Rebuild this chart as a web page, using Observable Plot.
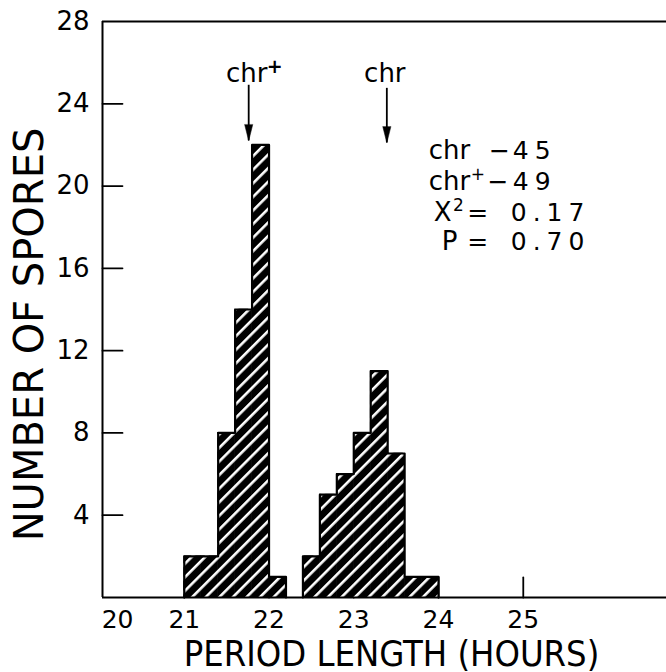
<!DOCTYPE html>
<html><head><meta charset="utf-8">
<script src="https://cdn.jsdelivr.net/npm/d3@7"></script>
<script src="https://cdn.jsdelivr.net/npm/@observablehq/plot@0.6"></script>
<style>body{margin:0;background:#fff} svg{display:block}</style>
</head><body><div id="chart"></div>
<script>
// ---- data ----
const chrPlusBinStart = [21.0, 21.2, 21.4, 21.6, 21.8, 22.0];
const chrPlusCounts   = [2, 2, 8, 14, 22, 1];
const chrBinStart     = [22.4, 22.6, 22.8, 23.0, 23.2, 23.4, 23.6, 23.8];
const chrCounts       = [2, 5, 6, 8, 11, 7, 1, 1];
const binWidth = 0.2;

const xTicks = [20, 21, 22, 23, 24, 25];
const yTicks = [4, 8, 12, 16, 20, 24, 28];
const xDomain = [20.035, 26.69];
const yDomain = [0, 28];

const arrowLabels = ["chr", "chr"];
const arrowSups   = ["+", ""];
const arrowX      = [21.76, 23.39];
const arrowTop    = [24.9, 24.75];
const arrowTip    = [22.2, 22.1];
const labelY      = [25.04, 25.04];

const statNames  = ["chr", "chr", "X", "P"];
const statSups   = ["", "+", "2", ""];
const statOps    = ["−", "−", "=", "="];
const statValues = ["45", "49", "0.17", "0.70"];
const statNameX  = [23.884, 23.884, 23.943, 24.037];
const statSupX   = [24.38, 24.38, 24.17, 24.3];
const statOpX    = [24.72, 24.70, 24.462, 24.462];
const statValX   = [24.876, 24.876, 24.852, 24.852];
const statY      = [21.34, 19.83, 18.28, 16.87];

const xTitle = "PERIOD LENGTH (HOURS)";
const yTitle = "NUMBER OF SPORES";

// ---- derived tables ----
const bars = [
  ...chrPlusBinStart.map((x, i) => ({group: "chr+", x1: x, x2: x + binWidth, y: chrPlusCounts[i]})),
  ...chrBinStart.map((x, i) => ({group: "chr", x1: x, x2: x + binWidth, y: chrCounts[i]}))
];
function outline(starts, counts, group) {
  const pts = [{group, x: starts[0], y: 0}];
  starts.forEach((x, i) => pts.push({group, x, y: counts[i]}));
  const end = starts[starts.length - 1] + binWidth;
  pts.push({group, x: end, y: counts[counts.length - 1]});
  pts.push({group, x: end, y: 0});
  return pts;
}
const outlines = [...outline(chrPlusBinStart, chrPlusCounts, "chr+"), ...outline(chrBinStart, chrCounts, "chr")];
const arrows = arrowLabels.map((t, i) => ({t, s: arrowSups[i], x: arrowX[i], y1: arrowTop[i], y2: arrowTip[i], ly: labelY[i]}));
const stats = statNames.map((n, i) => ({n, s: statSups[i], op: statOps[i], v: statValues[i], nx: statNameX[i], sx: statSupX[i], ox: statOpX[i], vx: statValX[i], y: statY[i]}));

const lineShape = {draw(ctx, l) { ctx.moveTo(0, 0); ctx.lineTo(0, -l); }};
const headShape = {draw(ctx, l, r) { ctx.moveTo(-4, 0); ctx.lineTo(0, -l); ctx.lineTo(4, 0); ctx.closePath(); }};

const defs = () => {
  const s = d3.create("svg:defs");
  const p = s.append("pattern").attr("id", "hatch").attr("patternUnits", "userSpaceOnUse")
    .attr("width", 9.6).attr("height", 9.6).attr("patternTransform", "rotate(45)");
  p.append("rect").attr("width", 9.6).attr("height", 9.6).attr("fill", "black");
  p.append("rect").attr("x", 0).attr("width", 2.6).attr("height", 9.6).attr("fill", "white");
  return s.node();
};

const font = "DejaVu Sans";

const chart = Plot.plot({
  width: 666,
  height: 672,
  marginLeft: 102,
  marginRight: 0,
  marginTop: 21,
  marginBottom: 75,
  style: {fontFamily: font, color: "black", background: "white", overflow: "visible"},
  x: {domain: xDomain},
  y: {domain: yDomain},
  marks: [
    defs,
    // inward ticks
    Plot.vector(yTicks.slice(0, -1), {y: d => d, frameAnchor: "left", length: 20, rotate: 90, anchor: "start", shape: lineShape, stroke: "black", strokeWidth: 1.8}),
    Plot.vector(xTicks.slice(1), {x: d => d, frameAnchor: "bottom", length: 20, rotate: 0, anchor: "start", shape: lineShape, stroke: "black", strokeWidth: 1.8}),
    // bars
    Plot.rectY(bars, {x1: "x1", x2: "x2", y: "y", fill: "url(#hatch)", stroke: "url(#hatch)", strokeWidth: 0.6}),
    Plot.line(outlines, {x: "x", y: "y", z: "group", curve: "step-after", stroke: "black", strokeWidth: 2.2}),
    // frame lines
    Plot.ruleY([yDomain[0]], {stroke: "black", strokeWidth: 2}),
    Plot.ruleY([yDomain[1]], {stroke: "black", strokeWidth: 1.8}),
    Plot.ruleX([xDomain[0]], {stroke: "black", strokeWidth: 2}),
    // axes labels
    Plot.axisY({ticks: yTicks, tickSize: 0, tickPadding: 13, fontSize: 26, tickFormat: d => String(d), label: null}),
    Plot.axisX({ticks: xTicks.slice(1), tickSize: 0, tickPadding: 13, fontSize: 25, tickFormat: d => String(d), label: null}),
    Plot.text([xTicks[0]], {x: d => d, frameAnchor: "bottom", text: d => String(d), lineAnchor: "top", dy: 13, dx: 18, fontSize: 25, fill: "black"}),
    // titles
    Plot.text([xTitle], {frameAnchor: "bottom", text: d => d, lineAnchor: "bottom", dy: 68, dx: 7, fontSize: 36, fontFamily: "DejaVu Sans Condensed", fill: "black"}),
    Plot.text([yTitle], {frameAnchor: "left", text: d => d, rotate: -90, textAnchor: "middle", dx: -72, dy: 25, fontSize: 40, fill: "black"}),
    // arrows
    Plot.ruleX(arrows, {x: "x", y1: "y1", y2: "y2", stroke: "black", strokeWidth: 1.8}),
    Plot.vector(arrows, {x: "x", y: "y2", length: 16, rotate: 180, anchor: "end", shape: headShape, fill: "black", stroke: "black", strokeWidth: 0.5}),
    Plot.text(arrows, {x: "x", y: "ly", text: "t", lineAnchor: "bottom", fontSize: 26, dx: -2, fill: "black"}),
    Plot.text(arrows, {x: "x", y: "ly", text: "s", textAnchor: "start", lineAnchor: "bottom", fontSize: 19, dx: 18, dy: -9, fontWeight: "bold", fill: "black"}),
    // stats block
    Plot.text(stats, {x: "nx", y: "y", text: "n", textAnchor: "start", lineAnchor: "bottom", fontSize: 26, fill: "black"}),
    Plot.text(stats, {x: "sx", y: "y", text: "s", textAnchor: "start", lineAnchor: "bottom", fontSize: 17, dy: -10, fill: "black"}),
    Plot.text(stats, {x: "ox", y: "y", text: "op", textAnchor: "middle", lineAnchor: "bottom", fontSize: 25, fill: "black"}),
    Plot.text(stats, {x: "vx", y: "y", text: "v", textAnchor: "start", lineAnchor: "bottom", fontSize: 25, fill: "black"})
  ]
});
// wider hand-lettered figures in the statistics block
d3.select(chart).selectAll("text").filter(function() { return statValues.includes(this.textContent); })
  .style("letter-spacing", "6px");
document.getElementById("chart").appendChild(chart);
</script>
</body></html>
